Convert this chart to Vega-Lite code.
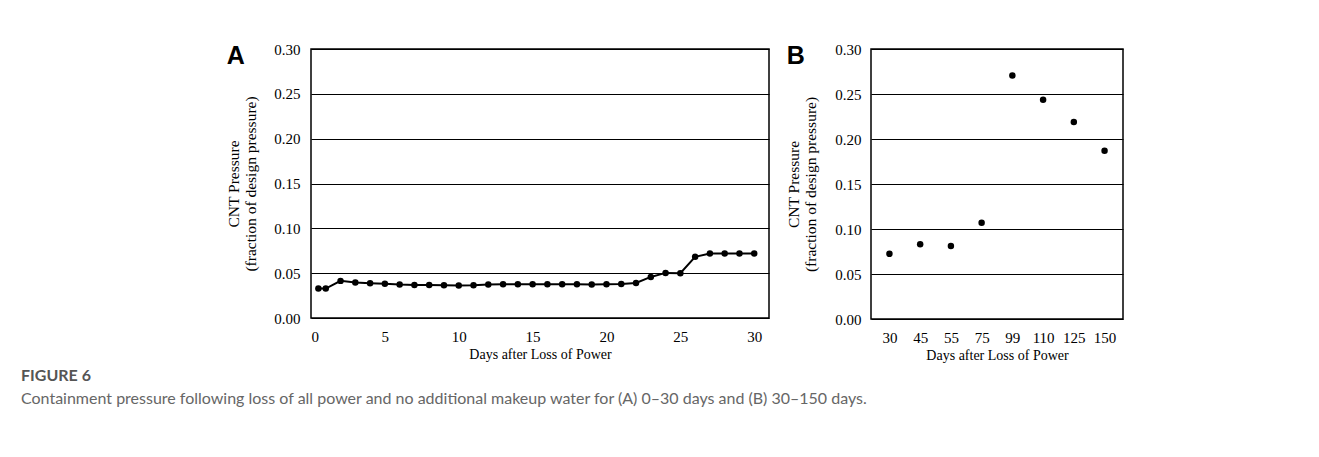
{
  "$schema": "https://vega.github.io/schema/vega-lite/v6.json",
  "background": "white",
  "autosize": {"type": "pad"},
  "padding": {"left": 21, "top": 41, "right": 5, "bottom": 5},
  "config": {
    "font": "Liberation Serif",
    "view": {"stroke": "black", "strokeWidth": 1.5},
    "axis": {
      "labelFont": "Liberation Serif", "labelFontSize": 15, "labelColor": "black",
      "titleFont": "Liberation Serif", "titleFontSize": 14, "titleFontWeight": "normal", "titleColor": "black",
      "ticks": false, "domain": false, "grid": false
    },
    "axisY": {"titleFontSize": 15.5, "titleLineHeight": 17}
  },
  "title": {
    "text": "FIGURE 6",
    "subtitle": "Containment pressure following loss of all power and no additional makeup water for (A) 0–30 days and (B) 30–150 days.",
    "orient": "bottom", "anchor": "start", "frame": "bounds", "dx": -205, "offset": 5,
    "font": "Lato", "fontSize": 16, "fontWeight": "bold", "color": "#555555",
    "subtitleFont": "Lato", "subtitleFontSize": 16, "subtitleColor": "#666666", "subtitlePadding": 7
  },
  "spacing": 16,
  "hconcat": [
    {
      "width": 458, "height": 269,
      "title": {"text": "A", "orient": "top", "anchor": "start", "frame": "bounds", "baseline": "top", "dy": 31,
        "font": "Liberation Sans", "fontSize": 25, "fontWeight": "bold", "color": "black"},
      "data": {"values": [
        {"day": 0.5, "p": 0.0328}, {"day": 1, "p": 0.0328}, {"day": 2, "p": 0.0414}, {"day": 3, "p": 0.0395},
        {"day": 4, "p": 0.0388}, {"day": 5, "p": 0.0381}, {"day": 6, "p": 0.0373}, {"day": 7, "p": 0.0369},
        {"day": 8, "p": 0.0369}, {"day": 9, "p": 0.0365}, {"day": 10, "p": 0.0362}, {"day": 11, "p": 0.0365},
        {"day": 12, "p": 0.0373}, {"day": 13, "p": 0.0376}, {"day": 14, "p": 0.0376}, {"day": 15, "p": 0.0376},
        {"day": 16, "p": 0.0376}, {"day": 17, "p": 0.0376}, {"day": 18, "p": 0.0376}, {"day": 19, "p": 0.0373},
        {"day": 20, "p": 0.0376}, {"day": 21, "p": 0.0380}, {"day": 22, "p": 0.0391}, {"day": 23, "p": 0.0458},
        {"day": 24, "p": 0.0503}, {"day": 25, "p": 0.0500}, {"day": 26, "p": 0.0682}, {"day": 27, "p": 0.0719},
        {"day": 28, "p": 0.0719}, {"day": 29, "p": 0.0719}, {"day": 30, "p": 0.0719}
      ]},
      "mark": {"type": "line", "color": "black", "strokeWidth": 2,
        "point": {"filled": true, "size": 42, "color": "black", "opacity": 1}},
      "encoding": {
        "x": {"field": "day", "type": "quantitative",
          "scale": {"domain": [0, 31], "nice": false},
          "axis": {"values": [0, 5, 10, 15, 20, 25, 30], "title": "Days after Loss of Power", "labelPadding": 11, "titlePadding": 3}},
        "y": {"field": "p", "type": "quantitative",
          "scale": {"domain": [0, 0.3], "nice": false},
          "axis": {"values": [0, 0.05, 0.1, 0.15, 0.2, 0.25, 0.3], "format": ".2f",
            "grid": true, "gridColor": "black", "gridWidth": 1, "gridOpacity": 1,
            "labelPadding": 11, "titlePadding": 15,
            "title": ["CNT Pressure", "(fraction of design pressure)"]}}
      }
    },
    {
      "width": 252, "height": 270,
      "title": {"text": "B", "orient": "top", "anchor": "start", "frame": "bounds", "baseline": "top", "dy": 31,
        "font": "Liberation Sans", "fontSize": 25, "fontWeight": "bold", "color": "black"},
      "data": {"values": [
        {"day": 30, "p": 0.0724}, {"day": 45, "p": 0.083}, {"day": 55, "p": 0.081}, {"day": 75, "p": 0.107},
        {"day": 99, "p": 0.2706}, {"day": 110, "p": 0.2437}, {"day": 125, "p": 0.219}, {"day": 150, "p": 0.187}
      ]},
      "mark": {"type": "point", "filled": true, "size": 42, "color": "black", "opacity": 1},
      "encoding": {
        "x": {"field": "day", "type": "ordinal",
          "scale": {"type": "point", "padding": 0.6},
          "axis": {"labelAngle": 0, "title": "Days after Loss of Power", "labelPadding": 11, "titlePadding": 3}},
        "y": {"field": "p", "type": "quantitative",
          "scale": {"domain": [0, 0.3], "nice": false},
          "axis": {"values": [0, 0.05, 0.1, 0.15, 0.2, 0.25, 0.3], "format": ".2f",
            "grid": true, "gridColor": "black", "gridWidth": 1, "gridOpacity": 1,
            "labelPadding": 10, "titlePadding": 16,
            "title": ["CNT Pressure", "(fraction of design pressure)"]}}
      }
    }
  ]
}
